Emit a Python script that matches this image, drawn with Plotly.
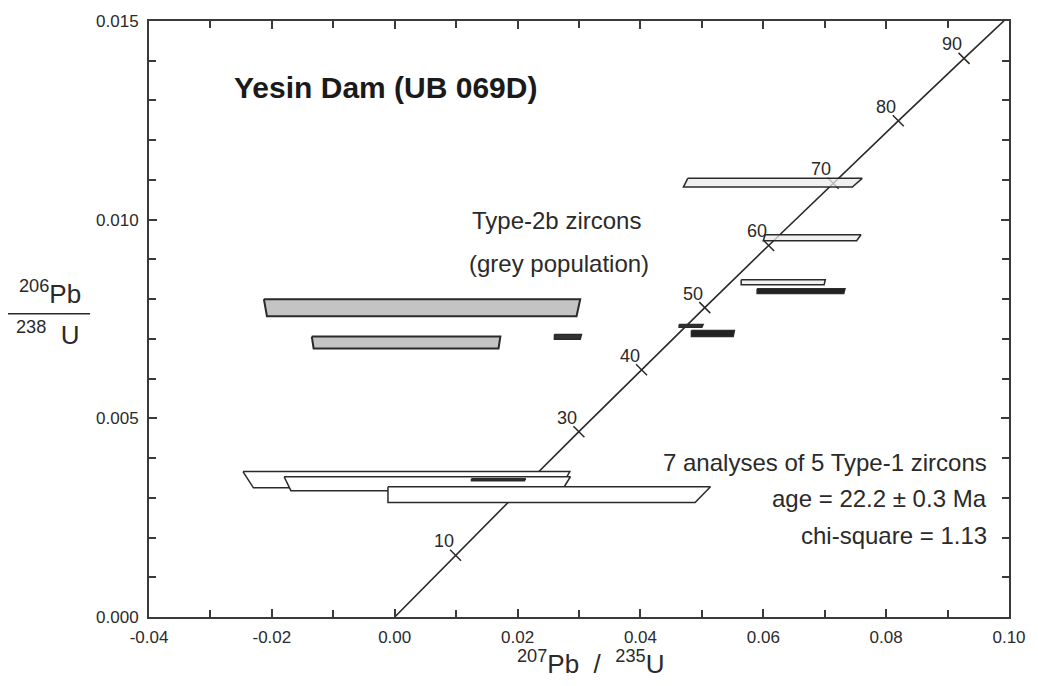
import plotly.graph_objects as go

# ---------------- data ----------------
# Concordia curve points (age in Ma, 207Pb/235U, 206Pb/238U)
conc_age = [0, 10, 20, 30, 40, 50, 60, 70, 80, 90, 100]
conc_x = [0.0, 0.009897, 0.019892, 0.029986, 0.040180, 0.050475, 0.060872, 0.071371, 0.081975, 0.092683, 0.103500]
conc_y = [0.0, 0.0015525, 0.0031073, 0.0046646, 0.0062243, 0.0077864, 0.0093509, 0.0109179, 0.0124873, 0.0140592, 0.015633]
labelled_ages = [10, 30, 40, 50, 60, 70, 80, 90]

# Error shapes: left-top x, left-bottom x, right-top x, right-bottom x, top y, bottom y
grey_xlt = [-0.0213, -0.0135]
grey_xlb = [-0.0208, -0.0132]
grey_xrt = [0.0302, 0.0172]
grey_xrb = [0.0296, 0.0169]
grey_yt = [0.00800, 0.00706]
grey_yb = [0.00757, 0.00676]

light_xlt = [0.0477, 0.0603]
light_xlb = [0.0470, 0.0600]
light_xrt = [0.0761, 0.0759]
light_xrb = [0.0745, 0.0752]
light_yt = [0.01104, 0.00962]
light_yb = [0.01082, 0.00947]

dark_xlt = [0.0260, 0.0463, 0.0483, 0.0564, 0.0590, 0.0125]
dark_xlb = [0.0260, 0.0463, 0.0483, 0.0564, 0.0590, 0.0125]
dark_xrt = [0.0304, 0.0502, 0.0553, 0.0701, 0.0733, 0.0213]
dark_xrb = [0.0302, 0.0500, 0.0551, 0.0699, 0.0731, 0.0211]
dark_yt = [0.00711, 0.00736, 0.00721, 0.00849, 0.00826, 0.00348]
dark_yb = [0.00699, 0.00729, 0.00706, 0.00836, 0.00814, 0.00343]
dark_fill = ["#333333", "#333333", "#222222", "#f0f0f0", "#222222", "#333333"]

white_xlt = [-0.0247, -0.0180, -0.0011]
white_xlb = [-0.0230, -0.0169, -0.0011]
white_xrt = [0.0285, 0.0286, 0.0514]
white_xrb = [0.0270, 0.0272, 0.0489]
white_yt = [0.00366, 0.00353, 0.00328]
white_yb = [0.00325, 0.00318, 0.00288]

x_ticks = [-0.04, -0.02, 0.00, 0.02, 0.04, 0.06, 0.08, 0.10]
y_ticks = [0.000, 0.005, 0.010, 0.015]

FONT = "Liberation Sans, Arial, Helvetica, sans-serif"
INK = "#2a2a2a"

fig = go.Figure()

# concordia
fig.add_trace(go.Scatter(x=conc_x, y=conc_y, mode="lines",
                         line=dict(color=INK, width=1.6), hoverinfo="skip"))
tick_x = [conc_x[conc_age.index(a)] for a in conc_age if 0 < a < 100]
tick_y = [conc_y[conc_age.index(a)] for a in conc_age if 0 < a < 100]
fig.add_trace(go.Scatter(x=tick_x, y=tick_y, mode="markers",
                         marker=dict(symbol="line-nw", size=11,
                                     line=dict(color=INK, width=1.5)),
                         hoverinfo="skip"))


def add_shapes(xlt, xlb, xrt, xrb, yt, yb, fills, lw=1.5):
    for i in range(len(xlt)):
        xs = [xlt[i], xrt[i], xrb[i], xlb[i], xlt[i]]
        ys = [yt[i], yt[i], yb[i], yb[i], yt[i]]
        fig.add_trace(go.Scatter(x=xs, y=ys, mode="lines", fill="toself",
                                 fillcolor=fills[i],
                                 line=dict(color=INK, width=lw),
                                 hoverinfo="skip"))


add_shapes(grey_xlt, grey_xlb, grey_xrt, grey_xrb, grey_yt, grey_yb,
           ["#c4c4c4"] * len(grey_xlt), lw=2)
add_shapes(light_xlt, light_xlb, light_xrt, light_xrb, light_yt, light_yb,
           ["rgba(235,235,235,0.75)"] * len(light_xlt))
add_shapes(white_xlt, white_xlb, white_xrt, white_xrb, white_yt, white_yb,
           ["white"] * len(white_xlt))
add_shapes(dark_xlt, dark_xlb, dark_xrt, dark_xrb, dark_yt, dark_yb,
           dark_fill)

annotations = []
for a in labelled_ages:
    i = conc_age.index(a)
    annotations.append(dict(x=conc_x[i], y=conc_y[i], text=str(a), showarrow=False,
                            xshift=-12, yshift=14,
                            font=dict(family=FONT, size=18, color=INK)))

annotations += [
    dict(x=0.0964, y=0.888, xref="paper", yref="paper", xanchor="left", yanchor="middle",
         text="<b>Yesin Dam (UB 069D)</b>", showarrow=False,
         font=dict(family=FONT, size=30, color="#1a1a1a")),
    dict(x=0.474, y=0.666, xref="paper", yref="paper", xanchor="center", yanchor="middle",
         text="Type-2b zircons", showarrow=False,
         font=dict(family=FONT, size=24, color=INK)),
    dict(x=0.477, y=0.593, xref="paper", yref="paper", xanchor="center", yanchor="middle",
         text="(grey population)", showarrow=False,
         font=dict(family=FONT, size=24, color=INK)),
    dict(x=0.977, y=0.259, xref="paper", yref="paper", xanchor="right", yanchor="middle",
         text="7 analyses of 5 Type-1 zircons", showarrow=False,
         font=dict(family=FONT, size=24, color=INK)),
    dict(x=0.977, y=0.199, xref="paper", yref="paper", xanchor="right", yanchor="middle",
         text="age = 22.2 ± 0.3 Ma", showarrow=False,
         font=dict(family=FONT, size=24, color=INK)),
    dict(x=0.977, y=0.137, xref="paper", yref="paper", xanchor="right", yanchor="middle",
         text="chi-square = 1.13", showarrow=False,
         font=dict(family=FONT, size=24, color=INK)),
    # x axis title
    dict(x=0.513, y=-0.076, xref="paper", yref="paper", xanchor="center", yanchor="middle",
         text="<sup>207</sup>Pb  /  <sup>235</sup>U", showarrow=False,
         font=dict(family=FONT, size=26, color=INK)),
    # y axis title (fraction)
    dict(x=-0.115, y=0.513, xref="paper", yref="paper", xanchor="center", yanchor="bottom",
         text="<sup>206</sup>Pb", showarrow=False,
         font=dict(family=FONT, size=26, color=INK)),
    dict(x=-0.117, y=0.507, xref="paper", yref="paper", xanchor="center", yanchor="top",
         text="<sup>238</sup>&nbsp;&nbsp;U", showarrow=False,
         font=dict(family=FONT, size=26, color=INK)),
]

shapes = [dict(type="line", xref="paper", yref="paper", x0=-0.164, x1=-0.0685,
               y0=0.509, y1=0.509, line=dict(color=INK, width=1.5))]

axis_common = dict(showgrid=False, zeroline=False, showline=True, linecolor="#3a3a3a",
                   linewidth=2, mirror="allticks", ticks="inside", ticklen=8,
                   tickwidth=1.5, tickcolor="#3a3a3a",
                   tickfont=dict(family=FONT, size=17, color=INK))

fig.update_layout(
    width=1038, height=686,
    margin=dict(l=149, r=28, t=18, b=69),
    paper_bgcolor="white", plot_bgcolor="white",
    showlegend=False,
    annotations=annotations, shapes=shapes,
    xaxis=dict(range=[-0.04, 0.10], tickvals=x_ticks,
               ticktext=[f"{v:.2f}" for v in x_ticks],
               minor=dict(dtick=0.01, tick0=0, ticks="inside", ticklen=7,
                          tickwidth=1.5, tickcolor="#3a3a3a"),
               ticklabelstandoff=4,
               **axis_common),
    yaxis=dict(range=[0, 0.015], tickvals=y_ticks,
               ticktext=[f"{v:.3f}" for v in y_ticks],
               minor=dict(dtick=0.001, tick0=0, ticks="inside", ticklen=7,
                          tickwidth=1.5, tickcolor="#3a3a3a"),
               ticklabelstandoff=5,
               **axis_common),
)

fig.write_html("out.html")
